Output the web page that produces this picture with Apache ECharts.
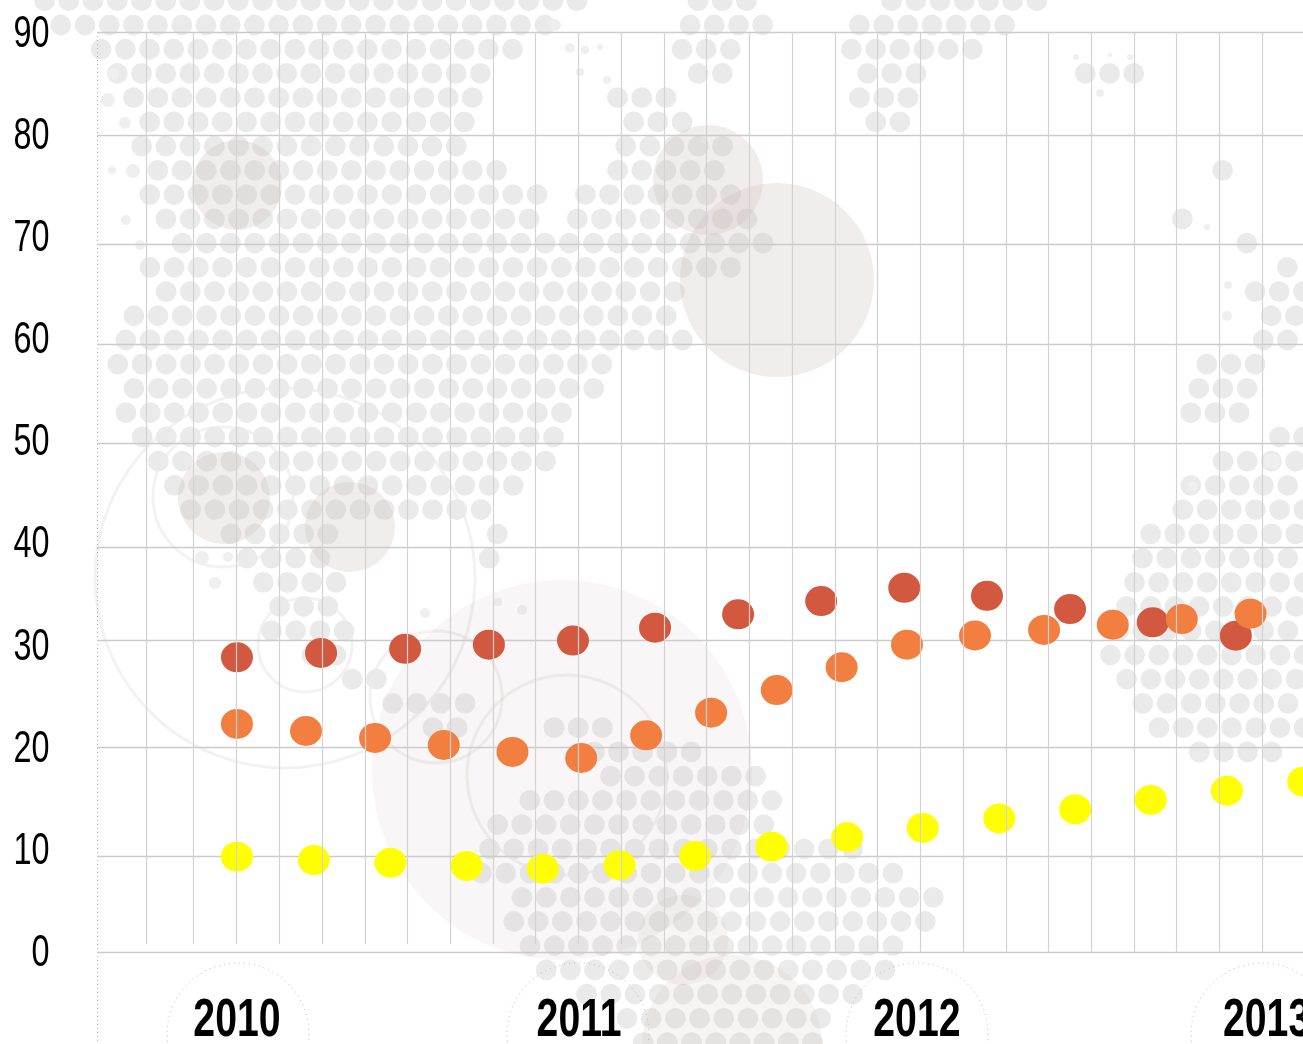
<!DOCTYPE html>
<html>
<head>
<meta charset="utf-8">
<title>chart</title>
<style>
  html, body { margin: 0; padding: 0; background: #fff; overflow: hidden; }
  #main { width: 1303px; height: 1044px; }
</style>
<script src="https://cdn.jsdelivr.net/npm/echarts@6/dist/echarts.min.js"></script>
</head>
<body>
<div id="main"></div>
<script>
  // values
  var redX = [2010.001, 2010.247, 2010.493, 2010.738, 2010.984, 2011.224, 2011.467, 2011.710, 2011.953, 2012.195, 2012.438, 2012.680, 2012.923, 2013.167];
  var redY = [28.84, 29.27, 29.68, 30.08, 30.48, 31.74, 33.05, 34.35, 35.65, 34.86, 33.57, 32.27, 30.96, 32.20];
  var orangeX = [2010.001, 2010.203, 2010.405, 2010.606, 2010.807, 2011.008, 2011.198, 2011.388, 2011.580, 2011.770, 2011.961, 2012.160, 2012.362, 2012.563, 2012.765, 2012.966, 2013.167];
  var orangeY = [22.32, 21.63, 20.95, 20.26, 19.58, 18.99, 21.21, 23.42, 25.64, 27.87, 30.08, 30.98, 31.52, 32.03, 32.59, 33.11, 34.16];
  var yellowX = [2010.001, 2010.226, 2010.450, 2010.673, 2010.896, 2011.120, 2011.341, 2011.565, 2011.786, 2012.007, 2012.231, 2012.453, 2012.674, 2012.897, 2013.120];
  var yellowY = [9.33, 9.00, 8.74, 8.42, 8.15, 8.49, 9.40, 10.31, 11.23, 12.14, 13.07, 13.97, 14.88, 15.79, 16.67];

  var yLabels = [0, 10, 20, 30, 40, 50, 60, 70, 80, 90];
  var years = [2010, 2011, 2012, 2013];
  // where the year labels sit, they are hand placed in the original
  var yearLabelAt = [2010.001, 2011.002, 2011.990, 2013.013];
  // the rules in the original do not sit exactly on the labels
  var yRules = [0, 9.33, 20.04, 30.54, 39.64, 49.79, 59.46, 69.27, 79.9, 90];
  var xRulesShort = [2009.737, 2009.873, 2010, 2010.125, 2010.25, 2010.375, 2010.5, 2010.625, 2010.75, 2010.875, 2011, 2011.125];
  var xRulesLong = [2011.25, 2011.375, 2011.5, 2011.625, 2011.75, 2011.875, 2012, 2012.125, 2012.25, 2012.375, 2012.5, 2012.625, 2012.75, 2012.875, 2013];

  // background map: dot lattice, [row, fromX, toX]
  var landRuns = [
    [-1, 50, 577], [-1, 700, 750], [-1, 892, 1038],
    [0, 60, 545], [0, 688, 764], [0, 861, 1000],
    [1, 100, 512], [1, 683, 728], [1, 854, 975],
    [2, 120, 480], [2, 697, 723], [2, 868, 915], [2, 1086, 1133],
    [3, 133, 468], [3, 622, 664], [3, 863, 908],
    [4, 150, 463], [4, 633, 678], [4, 875, 899],
    [5, 142, 457], [5, 624, 721],
    [6, 158, 497], [6, 619, 714], [6, 1218, 1237],
    [7, 150, 537], [7, 586, 728], [7, 1231, 1231],
    [8, 165, 528], [8, 579, 745], [8, 1180, 1198], [8, 1247, 1247],
    [9, 175, 764], [9, 1188, 1188], [9, 1238, 1263],
    [10, 150, 730], [10, 1280, 1303],
    [11, 148, 674], [11, 1247, 1303],
    [12, 135, 667], [12, 1263, 1303],
    [13, 128, 683], [13, 1257, 1303],
    [14, 120, 603], [14, 1198, 1272],
    [15, 133, 590], [15, 1190, 1262],
    [16, 128, 562], [16, 1185, 1253],
    [17, 142, 552], [17, 1272, 1303],
    [18, 158, 543], [18, 1215, 1303],
    [19, 170, 513], [19, 1183, 1303],
    [20, 180, 480], [20, 1175, 1303],
    [21, 230, 327], [21, 495, 495], [21, 1143, 1303],
    [22, 247, 317], [22, 493, 493], [22, 1135, 1303],
    [23, 263, 330], [23, 1127, 1303],
    [24, 268, 327], [24, 1120, 1303],
    [25, 270, 343], [25, 1115, 1303],
    [26, 303, 343], [26, 1103, 1303],
    [27, 340, 383], [27, 1118, 1303],
    [28, 398, 465], [28, 1135, 1303],
    [29, 438, 460], [29, 553, 603], [29, 1150, 1303],
    [30, 457, 457], [30, 600, 695], [30, 1190, 1270],
    [31, 600, 755],
    [32, 533, 770],
    [33, 497, 765],
    [34, 490, 860],
    [35, 480, 895],
    [36, 505, 930],
    [37, 518, 920],
    [38, 535, 892],
    [39, 545, 883],
    [40, 585, 860],
    [41, 625, 825],
    [42, 640, 810]
  ];
  // coast fragments of the map: [cx, cy, r]
  var specks = [
    [113, 74, 6], [108, 100, 7], [125, 123, 6], [112, 170, 4], [133, 171, 7], [126, 220, 5], [140, 245, 5],
    [555, 25, 6], [585, 50, 4], [600, 47, 3], [570, 48, 5], [580, 72, 4], [607, 80, 4],
    [1076, 57, 3], [1110, 55, 2], [1130, 57, 3], [1100, 93, 4], [704, 140, 3],
    [202, 558, 7], [215, 583, 6], [228, 557, 5], [425, 613, 5], [498, 602, 4], [522, 610, 5],
    [1207, 227, 3], [1228, 285, 4], [1193, 486, 5], [1272, 461, 8], [1227, 316, 5]
  ];
  // pale blobs and rings over the map: [cx, cy, r]
  var blobs = [[237, 185, 45], [708, 180, 55], [777, 280, 97], [224, 498, 46], [350, 527, 45]];
  var lowBlobs = [[683, 940, 45], [732, 1045, 90]];
  var paleDisc = [562, 770, 190];
  var rings = [[285, 578, 190], [223, 497, 70], [305, 645, 47], [436, 697, 66], [567, 775, 100]];
  var yearRings = [[238, 1034, 71], [578, 1034, 71], [917, 1034, 71], [1262, 1034, 71]];

  function circle(c, style) {
    return { type: 'circle', silent: true, z: -10, shape: { cx: c[0], cy: c[1], r: c[2] }, style: style };
  }

  var bg = [];
  rings.forEach(function (c) {
    bg.push(circle(c, { fill: 'none', stroke: 'rgba(200,185,185,0.2)', lineWidth: 3 }));
  });
  landRuns.forEach(function (run) {
    var y = 25 + 24.23 * run[0];
    var start = 12.4 - 8.03 * run[0];
    for (var k = -30; k < 80; k++) {
      var x = start + 24.2 * k;
      if (x >= run[1] - 6 && x <= run[2] + 6) {
        bg.push(circle([x, y, 10.4], { fill: '#eaeaea' }));
      }
    }
  });
  specks.forEach(function (c) {
    bg.push(circle(c, { fill: '#efefef' }));
  });
  blobs.forEach(function (c) {
    bg.push(circle(c, { fill: 'rgba(200,180,180,0.24)' }));
  });
  lowBlobs.forEach(function (c) {
    bg.push(circle(c, { fill: 'rgba(200,180,180,0.14)' }));
  });
  bg.push(circle(paleDisc, { fill: 'rgba(200,180,180,0.12)' }));
  yearRings.forEach(function (c) {
    bg.push(circle(c, { fill: 'none', stroke: '#b5b5b5', lineWidth: 1, lineDash: [1, 4] }));
  });
  bg.push({
    type: 'line', silent: true, z: -9,
    shape: { x1: 97.5, y1: 32, x2: 97.5, y2: 1044 },
    style: { stroke: '#b5b5b5', lineWidth: 1, lineDash: [1, 3] }
  });

  function zip(xs, ys) {
    return xs.map(function (x, i) { return [x, ys[i]]; });
  }

  var ruleData = xRulesShort.map(function (x) {
    return [{ coord: [x, 0.78] }, { coord: [x, 90] }];
  }).concat(xRulesLong.map(function (x) {
    return [{ coord: [x, 0] }, { coord: [x, 90] }];
  }));

  function dots(name, color, xs, ys) {
    return {
      name: name,
      type: 'scatter',
      symbol: 'circle',
      symbolSize: [32, 30],
      itemStyle: { color: color, opacity: 1 },
      data: zip(xs, ys)
    };
  }

  var xMin = 2009.5916;
  var xMax = 2013.178;

  // no narrow font is installed, so the tick text is squeezed horizontally
  function squeezedLabels(name, data, scaleX, font, dx, dy) {
    return {
      name: name,
      type: 'custom',
      silent: true,
      z: 5,
      clip: false,
      data: data,
      renderItem: function (params, api) {
        var p = api.coord([api.value(0), api.value(1)]);
        return {
          type: 'text',
          x: p[0] + dx,
          y: p[1] + dy,
          scaleX: scaleX,
          style: {
            text: String(api.value(2)),
            font: font,
            fill: '#000',
            textAlign: dx ? 'right' : 'center',
            textVerticalAlign: 'middle'
          }
        };
      }
    };
  }

  var myChart = echarts.init(document.getElementById('main'));
  var option = {
    animation: false,
    backgroundColor: '#fff',
    graphic: { elements: bg },
    // grid runs past the right edge so the last clipped marks still draw
    grid: { left: 97, top: 32.5, width: 1226, height: 919.5, outerBoundsMode: 'none' },
    xAxis: {
      type: 'value',
      min: xMin,
      max: xMax,
      axisLine: { show: false },
      axisTick: { show: false },
      splitLine: { show: false },
      axisLabel: { show: false }
    },
    yAxis: {
      type: 'value',
      min: 0,
      max: 90,
      axisLine: { show: false },
      axisTick: { show: false, customValues: yRules },
      axisLabel: { show: false },
      splitLine: { show: true, lineStyle: { color: '#cbcbcb', width: 1.4 } }
    },
    series: [
      {
        name: 'rules',
        type: 'line',
        z: 1,
        data: [],
        markLine: {
          silent: true,
          symbol: 'none',
          animation: false,
          label: { show: false },
          lineStyle: { color: '#d2d2d2', width: 1.2, type: 'solid' },
          data: ruleData
        }
      },
      dots('red', '#d2583f', redX, redY),
      dots('orange', '#f27f40', orangeX, orangeY),
      dots('yellow', '#ffff00', yellowX, yellowY),
      squeezedLabels('yLabels', yLabels.map(function (v) { return [xMin, v, v]; }),
        0.735, '44px "Liberation Sans"', -47.5, 2),
      squeezedLabels('yearLabels', years.map(function (v, i) { return [yearLabelAt[i], 0, v]; }),
        0.74, 'bold 53px "Liberation Sans"', 0, 69)
    ]
  };
  myChart.setOption(option);
</script>
</body>
</html>
